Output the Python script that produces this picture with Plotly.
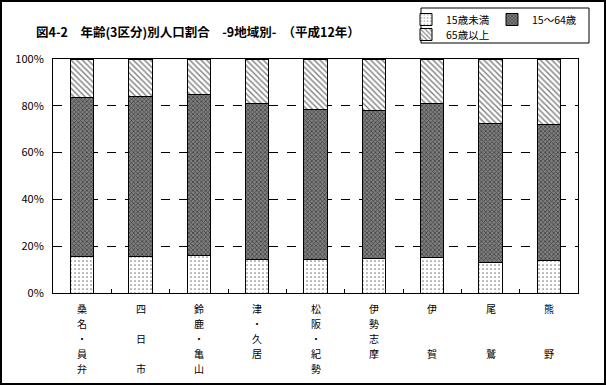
import plotly.graph_objects as go

categories = ["桑名・員弁", "四日市", "鈴鹿・亀山", "津・久居", "松阪・紀勢",
              "伊勢志摩", "伊賀", "尾鷲", "熊野"]
# vertical tick label text, one character per row (space = empty row)
tick_labels = ["桑名・員弁", "四 日 市", "鈴鹿・亀山", "津・久居", "松阪・紀勢",
               "伊勢志摩", "伊  賀", "尾  鷲", "熊  野"]
under15 = [15.5, 15.5, 16.1, 14.4, 14.4, 14.8, 15.3, 13.1, 13.8]
age15_64 = [68.1, 68.5, 68.9, 66.7, 64.1, 63.3, 65.5, 59.5, 58.3]
over65 = [16.4, 16.0, 15.0, 18.9, 21.5, 21.9, 19.2, 27.4, 27.9]
series_names = ["15歳未満", "15～64歳", "65歳以上"]
y_ticks = [0, 20, 40, 60, 80, 100]
y_ticklabels = ["0%", "20%", "40%", "60%", "80%", "100%"]

FONT = "Noto Sans CJK JP"
W, H = 606, 385
ml, mr, mt, mb = 53, 28, 59, 92
pw, ph = W - ml - mr, H - mt - mb

def px2x(px):
    return (px - ml) / pw

def py2y(py):
    return (H - mb - py) / ph

fig = go.Figure()
fig.add_trace(go.Bar(
    x=categories, y=under15, name=series_names[0], legend="legend",
    marker=dict(color="white", line=dict(color="black", width=1),
                pattern=dict(shape=".", fgcolor="black", bgcolor="white", size=4, solidity=0.15)),
))
fig.add_trace(go.Bar(
    x=categories, y=age15_64, name=series_names[1], legend="legend3",
    marker=dict(color="#777777", line=dict(color="black", width=1),
                pattern=dict(shape="x", fgcolor="black", bgcolor="#808080", size=3, solidity=0.45)),
))
fig.add_trace(go.Bar(
    x=categories, y=over65, name=series_names[2], legend="legend2",
    marker=dict(color="white", line=dict(color="black", width=1),
                pattern=dict(shape="\\", fgcolor="black", bgcolor="white", size=4, solidity=0.35)),
))

# vertical category labels, one annotation per character
annotations = []
for cat, lab in zip(categories, tick_labels):
    for i, ch in enumerate(lab):
        if ch.strip():
            annotations.append(dict(
                x=cat, xref="x", y=py2y(308 + 15 * i), yref="paper",
                text=ch, showarrow=False, xanchor="center", yanchor="middle",
                font=dict(family=FONT, size=10, color="black")))

leg_common = dict(orientation="h", xanchor="left", yanchor="top",
                  font=dict(family=FONT, size=10.5), bgcolor="rgba(0,0,0,0)",
                  itemwidth=30, borderwidth=0)

fig.update_layout(
    width=W, height=H,
    margin=dict(l=ml, r=mr, t=mt, b=mb, autoexpand=False),
    barmode="stack", bargap=0.6,
    plot_bgcolor="white", paper_bgcolor="white",
    font=dict(family=FONT, color="black", size=11),
    title=dict(text="<b>図4-2　年齢(3区分)別人口割合　-9地域別-　（平成12年）</b>",
               x=36 / W, xanchor="left", y=1 - 33 / H, yanchor="middle",
               font=dict(family=FONT, size=12.5, color="black")),
    legend=dict(x=px2x(406), y=py2y(5), **leg_common),
    legend3=dict(x=px2x(492), y=py2y(5), **leg_common),
    legend2=dict(x=px2x(406), y=py2y(20), **leg_common),
    showlegend=True,
    xaxis=dict(showline=True, linecolor="black", linewidth=1, mirror=True,
               ticks="inside", tickson="boundaries", ticklen=4, tickcolor="black",
               showticklabels=False, showgrid=False),
    yaxis=dict(range=[0, 100], tickvals=y_ticks, ticktext=y_ticklabels,
               showline=True, linecolor="black", linewidth=1, mirror=True,
               showgrid=True, gridcolor="black", gridwidth=1, griddash="dash",
               ticks="", ticklabelstandoff=6, tickfont=dict(family=FONT, size=11),
               zeroline=False),
    annotations=annotations,
    shapes=[
        dict(type="rect", xref="paper", yref="paper",
             x0=px2x(421), x1=px2x(589), y0=py2y(43), y1=py2y(8),
             line=dict(color="black", width=1), fillcolor="rgba(0,0,0,0)"),
        dict(type="rect", xref="paper", yref="paper",
             x0=px2x(1), x1=px2x(605), y0=py2y(384), y1=py2y(1),
             line=dict(color="black", width=2), fillcolor="rgba(0,0,0,0)"),
    ],
)

fig.write_html("out.html", config={"displayModeBar": False},
               post_script="document.body.style.margin='0';document.body.style.overflow='hidden';")
